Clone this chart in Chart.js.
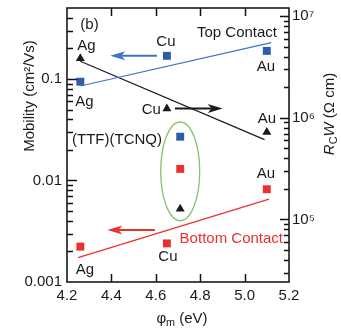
<!DOCTYPE html>
<html>
<head>
<meta charset="utf-8">
<script src="https://cdn.jsdelivr.net/npm/chart.js@4"></script>
<style>
  html, body { margin: 0; padding: 0; background: #fff; }
  canvas { display: block; }
</style>
</head>
<body>
<canvas id="chart" width="341" height="329"></canvas>
<script>
// values
const metals = ["Ag", "Cu", "Au"];
const workFunction = [4.26, 4.65, 5.10];
const topMobility = [0.094, 0.169, 0.189];
const bottomMobility = [0.00223, 0.0024, 0.0082];
const topRcW = [3.84e6, 1.23e6, 7.2e5];

// fit lines (end points)
const topFitX = [4.26, 5.12];
const topFitY = [0.0853, 0.228];
const rcwFitX = [4.26, 5.09];
const rcwFitY = [3.6e6, 6.1e5];
const bottomFitX = [4.25, 5.11];
const bottomFitY = [0.00174, 0.00656];

// (TTF)(TCNQ) electrodes
const ttfPhi = [4.71];
const ttfTopMobility = [0.027];
const ttfBottomMobility = [0.013];
const ttfRcW = [1.27e5];

const xTicks = [4.2, 4.4, 4.6, 4.8, 5.0, 5.2];
const xTickLabels = ["4.2", "4.4", "4.6", "4.8", "5.0", "5.2"];
const leftTicks = [0.001, 0.01, 0.1];
const leftTickLabels = ["0.001", "0.01", "0.1"];
const rightTicks = [1e5, 1e6, 1e7];
const rightTickLabels = ["10\u2075", "10\u2076", "10\u2077"];

const FONT = '"Liberation Sans", Arial, sans-serif';
const ink = "#1a1a1a";
const blue = "#2d5caa";
const blueLine = "#3f72c4";
const red = "#e8312e";
const green = "#86c466";

const pts = (xs, ys) => xs.map((x, i) => ({ x, y: ys[i] }));

function labelFor(values, labels) {
  return (v) => {
    const i = values.findIndex((t) => Math.abs(t - v) / t < 1e-6);
    return i < 0 ? "" : labels[i];
  };
}

function fitLine(data, color, axis) {
  return { data, yAxisID: axis, showLine: true, borderColor: color, borderWidth: 1.2, pointRadius: 0, fill: false };
}

function marks(data, color, style, r, axis) {
  return { data, yAxisID: axis, showLine: false, pointStyle: style, pointRadius: r, pointHoverRadius: r,
    backgroundColor: color, borderColor: color, borderWidth: 0 };
}

// 1..9 x 10^n positions inside a log range (for the small inward ticks)
function logMarks(min, max) {
  const out = [];
  for (let e = Math.floor(Math.log10(min)); e <= Math.ceil(Math.log10(max)); e++) {
    for (let m = 1; m <= 9; m++) {
      const v = m * Math.pow(10, e);
      if (v > min * 1.001 && v < max * 0.999) out.push({ v, major: m === 1 });
    }
  }
  return out;
}

// annotation texts anchored to data points (pixel nudges)
const notes = [
  { text: "Ag", x: workFunction[0], y: topRcW[0], axis: "y2", dx: 6, dy: -12 },
  { text: "Ag", x: workFunction[0], y: topMobility[0], axis: "y", dx: 4, dy: 20 },
  { text: "Cu", x: workFunction[1], y: topMobility[1], axis: "y", dx: -1, dy: -14 },
  { text: "Cu", x: workFunction[1], y: topRcW[1], axis: "y2", dx: -6, dy: 1, align: "right" },
  { text: "Au", x: workFunction[2], y: topMobility[2], axis: "y", dx: -1, dy: 16 },
  { text: "Au", x: workFunction[2], y: topRcW[2], axis: "y2", dx: 0, dy: -13 },
  { text: "Au", x: workFunction[2], y: bottomMobility[2], axis: "y", dx: -1, dy: -15 },
  { text: "Ag", x: workFunction[0], y: bottomMobility[0], axis: "y", dx: 4.5, dy: 23 },
  { text: "Cu", x: workFunction[1], y: bottomMobility[1], axis: "y", dx: 1, dy: 13.5 },
];

const arrows = [
  { from: 4.605, to: 4.395, y: topMobility[1], axis: "y", color: blueLine },
  { from: 4.686, to: 4.901, y: topRcW[1], axis: "y2", color: ink },
  { from: 4.596, to: 4.382, y: 0.00325, axis: "y", color: red },
];

function drawArrow(ctx, x0, x1, y, color) {
  const dir = Math.sign(x1 - x0);
  const head = 15, half = 4.5, notch = 4;
  ctx.strokeStyle = color;
  ctx.fillStyle = color;
  ctx.lineWidth = 2;
  ctx.beginPath();
  ctx.moveTo(x0, y);
  ctx.lineTo(x1 - dir * (head - notch), y);
  ctx.stroke();
  ctx.beginPath();
  ctx.moveTo(x1, y);
  ctx.lineTo(x1 - dir * head, y - half);
  ctx.lineTo(x1 - dir * (head - notch), y);
  ctx.lineTo(x1 - dir * head, y + half);
  ctx.closePath();
  ctx.fill();
}

// draws a run of text pieces (normal / italic / subscript) centred at 0,0
function drawPieces(ctx, pieces, size) {
  const fontOf = (p) => `${p.italic ? "italic " : ""}${p.sub ? size * 0.72 : size}px ${FONT}`;
  let total = 0;
  pieces.forEach((p) => { ctx.font = fontOf(p); total += ctx.measureText(p.t).width; });
  let x = -total / 2;
  ctx.textAlign = "left";
  ctx.textBaseline = "alphabetic";
  pieces.forEach((p) => {
    ctx.font = fontOf(p);
    ctx.fillText(p.t, x, p.sub ? size * 0.22 : 0);
    x += ctx.measureText(p.t).width;
  });
}

// inward tick marks on all four sides
function tickMarks(chart) {
  const { ctx, chartArea: a, scales } = chart;
  const segs = [];
  xTicks.forEach((v) => {
    const x = Math.round(scales.x.getPixelForValue(v)) + 0.5;
    if (x <= a.left + 2 || x >= a.right - 2) return;
    segs.push([x, a.bottom, x, a.bottom - 8], [x, a.top, x, a.top + 8]);
  });
  const side = (scale, edge, dir, major, minor) => {
    logMarks(scale.min, scale.max).forEach((t) => {
      const y = Math.round(scale.getPixelForValue(t.v)) + 0.5;
      segs.push([edge, y, edge + dir * (t.major ? major : minor), y]);
    });
  };
  side(scales.y, a.left, 1, 10, 6);
  side(scales.y2, a.right, -1, 9, 5);
  ctx.strokeStyle = "#111";
  ctx.lineWidth = 1.5;
  ctx.beginPath();
  segs.forEach(([x0, y0, x1, y1]) => { ctx.moveTo(x0, y0); ctx.lineTo(x1, y1); });
  ctx.stroke();
}

const decor = {
  id: "decor",
  afterDraw(chart) {
    const { ctx, chartArea: a, scales } = chart;
    ctx.save();

    tickMarks(chart);

    // green ring around the (TTF)(TCNQ) points
    const ex = scales.x.getPixelForValue(ttfPhi[0]);
    const ey = scales.y.getPixelForValue(0.0123);
    ctx.strokeStyle = green;
    ctx.lineWidth = 1.3;
    ctx.beginPath();
    ctx.ellipse(ex, ey, 19.5, 49.5, 0, 0, Math.PI * 2);
    ctx.stroke();

    arrows.forEach((ar) => {
      const y = scales[ar.axis].getPixelForValue(ar.y);
      drawArrow(ctx, scales.x.getPixelForValue(ar.from), scales.x.getPixelForValue(ar.to), y, ar.color);
    });

    // frame
    ctx.strokeStyle = ink;
    ctx.lineWidth = 1.6;
    ctx.strokeRect(a.left, a.top, a.right - a.left, a.bottom - a.top);

    // texts
    ctx.fillStyle = ink;
    ctx.font = `15px ${FONT}`;
    ctx.textBaseline = "middle";
    notes.forEach((n) => {
      ctx.textAlign = n.align || "center";
      ctx.fillText(n.text, scales.x.getPixelForValue(n.x) + n.dx, scales[n.axis].getPixelForValue(n.y) + n.dy);
    });
    ctx.textAlign = "center";
    ctx.fillText("(b)", a.left + 22.5, a.top + 16.5);
    ctx.textAlign = "right";
    ctx.fillText("Top Contact", a.right - 12, a.top + 25);
    ctx.textAlign = "left";
    ctx.fillText("(TTF)(TCNQ)", a.left + 5, a.top + 132);
    ctx.fillStyle = red;
    ctx.textAlign = "right";
    ctx.fillText("Bottom Contact", a.right - 6, a.top + 231);

    // axis titles
    ctx.fillStyle = ink;
    ctx.save();
    ctx.translate(33.5, 96);
    ctx.rotate(-Math.PI / 2);
    drawPieces(ctx, [{ t: "Mobility (cm\u00b2/Vs)" }], 15);
    ctx.restore();

    ctx.save();
    ctx.translate(333.5, 114);
    ctx.rotate(-Math.PI / 2);
    drawPieces(ctx, [{ t: "R", italic: true }, { t: "C", sub: true }, { t: "W", italic: true }, { t: " (\u03a9 cm)" }], 15);
    ctx.restore();

    ctx.save();
    ctx.translate(182, 323);
    drawPieces(ctx, [{ t: "\u03c6" }, { t: "m", sub: true }, { t: " (eV)" }], 15);
    ctx.restore();

    ctx.restore();
  },
};

const tickFont = { family: FONT, size: 15 };

new Chart(document.getElementById("chart"), {
  type: "scatter",
  data: {
    datasets: [
      fitLine(pts(topFitX, topFitY), blueLine, "y"),
      fitLine(pts(rcwFitX, rcwFitY), ink, "y2"),
      fitLine(pts(bottomFitX, bottomFitY), red, "y"),
      marks(pts(workFunction, topMobility), blue, "rect", 5.6, "y"),
      marks(pts(workFunction, topRcW), ink, "triangle", 5.2, "y2"),
      marks(pts(workFunction, bottomMobility), red, "rect", 5.6, "y"),
      marks(pts(ttfPhi, ttfTopMobility), blue, "rect", 5.6, "y"),
      marks(pts(ttfPhi, ttfBottomMobility), red, "rect", 5.6, "y"),
      marks(pts(ttfPhi, ttfRcW), ink, "triangle", 5.2, "y2"),
    ],
  },
  options: {
    responsive: false,
    animation: false,
    layout: { padding: { top: 8, left: 0, right: 0, bottom: 0 } },
    plugins: { legend: { display: false }, tooltip: { enabled: false } },
    scales: {
      x: {
        type: "linear", min: 4.2, max: 5.2,
        afterBuildTicks: (s) => { s.ticks = xTicks.map((value) => ({ value })); },
        afterFit: (s) => { s.height = 47; s.paddingLeft = 0; s.paddingRight = 0; },
        ticks: { callback: labelFor(xTicks, xTickLabels), font: tickFont, color: ink, padding: 5, autoSkip: false, maxRotation: 0 },
        grid: { display: false, drawTicks: false },
        border: { display: false },
      },
      y: {
        type: "logarithmic", position: "left", min: 0.001, max: 0.5,
        afterBuildTicks: (s) => { s.ticks = leftTicks.map((value) => ({ value })); },
        afterFit: (s) => { s.width = 67; s.paddingTop = 0; s.paddingBottom = 0; },
        ticks: { callback: labelFor(leftTicks, leftTickLabels), font: tickFont, color: ink, padding: 5, autoSkip: false },
        grid: { display: false, drawTicks: false },
        border: { display: false },
      },
      y2: {
        type: "logarithmic", position: "right", min: 24270, max: 1.2e7,
        afterBuildTicks: (s) => { s.ticks = rightTicks.map((value) => ({ value })); },
        afterFit: (s) => { s.width = 52; s.paddingTop = 0; s.paddingBottom = 0; },
        ticks: { callback: labelFor(rightTicks, rightTickLabels), font: tickFont, color: ink, padding: 3, autoSkip: false },
        grid: { display: false, drawTicks: false },
        border: { display: false },
      },
    },
  },
  plugins: [decor],
});
</script>
</body>
</html>
